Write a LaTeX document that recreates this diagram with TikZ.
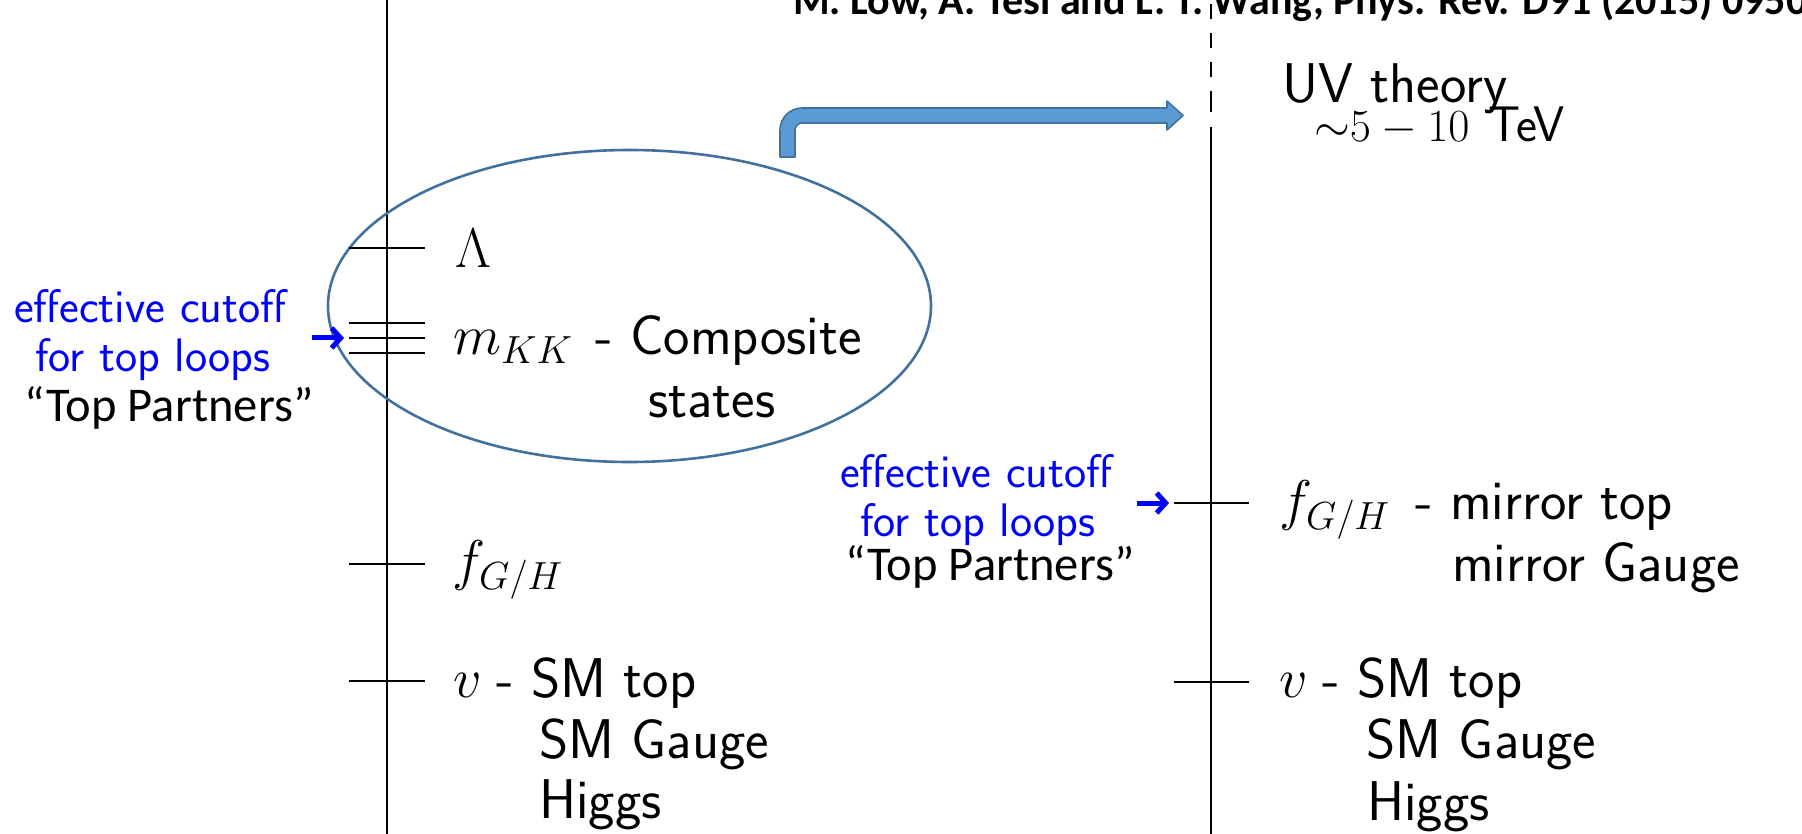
\RequirePackage{fix-cm}
\documentclass[tikz,border=0pt]{standalone}
\usepackage{fontspec}
\newfontfamily\calib{Carlito}
\usetikzlibrary{arrows.meta,shapes.geometric}
\definecolor{arrfill}{HTML}{5B9BD5}
\definecolor{arrline}{HTML}{41719C}
\begin{document}
\begin{tikzpicture}[x=1pt,y=-1pt,
  axisline/.style={line width=2.7pt,black},
  tickline/.style={line width=2.8pt,black},
  lbl/.style={anchor=base west,inner sep=0pt,font=\sffamily\fontsize{56}{62}\selectfont},
  cut/.style={anchor=base west,inner sep=0pt,text=blue,font=\sffamily\fontsize{47}{52}\selectfont},
  tp/.style={anchor=base west,inner sep=0pt,font=\calib\fontsize{48.5}{52}\selectfont},
  cutarrow/.style={blue,line width=5pt,-{Straight Barb[length=9pt,width=20pt]}},
  blockarrow/.style={fill=arrfill,draw=arrline,line width=1.6pt,line join=round},
  ring/.style={draw=arrline,line width=2.6pt,ellipse,inner sep=0pt,minimum width=603pt,minimum height=312pt}
]
\useasboundingbox (0,0) rectangle (1802,834);

% title
\node[anchor=base west,inner sep=0pt,font=\calib\bfseries\fontsize{42}{46}\selectfont] (ref) at (793,15) {M. Low, A. Tesi and L. T. Wang, Phys. Rev. D91 (2015) 095012};

% axes
\coordinate (Ltop) at (387,0);
\coordinate (Lbot) at (387,834);
\draw[axisline] (Ltop) -- (Lbot);
\draw[axisline] (1211,4) -- (1211,19) (1211,33) -- (1211,48) (1211,62) -- (1211,77) (1211,91) -- (1211,112);
\coordinate (Rtop) at (1211,127);
\coordinate (Rbot) at (1211,834);
\draw[axisline] (Rtop) -- (Rbot);

% ellipse
\node[ring] (ring) at (629.5,306) {};

% left ticks
\draw[tickline] (349,248) -- (425,248);
\draw[tickline] (349,323) -- (425,323);
\draw[tickline] (349,338) -- (425,338);
\draw[tickline] (349,353) -- (425,353);
\draw[tickline] (349,564) -- (425,564);
\draw[tickline] (349,681) -- (425,681);
% right ticks
\draw[tickline] (1174,503) -- (1249,503);
\draw[tickline] (1174,682) -- (1249,682);

% left labels
\node[lbl] (lam) at (455,268) {$\Lambda$};
\node[lbl] (mkk) at (453,355) {$m_{KK}$};
\node[lbl] (comp) at (595,355) {- Composite};
\node[lbl] (states) at (648,417) {states};
\node[lbl] (fL) at (452,579) {$f_{G/H}$};
\node[lbl] (vL) at (453,697) {$v$};
\node[lbl] (smtL) at (496,697) {- SM top};
\node[lbl] (smgL) at (539,758) {SM Gauge};
\node[lbl] (higL) at (539,818) {Higgs};

% right labels
\node[lbl] (fR) at (1279,519) {$f_{G/H}$};
\node[lbl] (mtR) at (1415,519) {- mirror top};
\node[lbl] (mgR) at (1452,581) {mirror Gauge};
\node[lbl] (vR) at (1279,697) {$v$};
\node[lbl] (smtR) at (1322,697) {- SM top};
\node[lbl] (smgR) at (1366,758) {SM Gauge};
\node[lbl] (higR) at (1367,820) {Higgs};

% cutoff notes
\node[cut] (c1L) at (14,323) {effective cutoff};
\node[cut] (c2L) at (35,371) {for top loops};
\node[tp] (tpL) at (24,421) {“Top Partners”};
\coordinate (aL0) at (312,338);
\coordinate (aL1) at (344,338);
\draw[cutarrow] (aL0) -- (aL1);

\node[cut] (c1R) at (840,487) {effective cutoff};
\node[cut] (c2R) at (860,536) {for top loops};
\node[tp] (tpR) at (845,580) {“Top Partners”};
\coordinate (aR0) at (1137,503);
\coordinate (aR1) at (1169,503);
\draw[cutarrow] (aR0) -- (aR1);

% UV theory
\node[lbl] (uv) at (1282,103) {UV theory};
\node[anchor=base west,inner sep=0pt,font=\fontsize{46}{52}\selectfont] (range) at (1314,142) {${\sim}5-10$};
\node[anchor=base west,inner sep=0pt,font=\sffamily\fontsize{50}{56}\selectfont] (tev) at (1488,142) {TeV};

% block arrow
\filldraw[blockarrow] (780,157) -- (780,130) .. controls (780,117.9) and (789.9,108) .. (802,108) -- (1167,108) -- (1167,101) -- (1183,115.5) -- (1167,130) -- (1167,123) -- (802,123) .. controls (798.1,123) and (795,126.9) .. (795,130) -- (795,157) -- cycle;
\end{tikzpicture}
\end{document}
